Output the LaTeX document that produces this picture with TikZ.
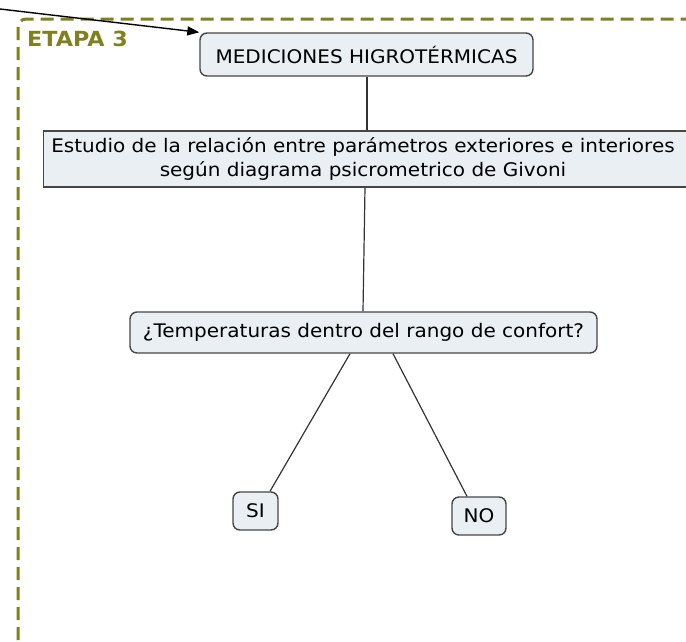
\documentclass[tikz,border=0pt]{standalone}
\usepackage{fontspec}
\setmainfont{DejaVu Sans}[FakeStretch=1.07]
\usetikzlibrary{arrows.meta}
\definecolor{olive3}{RGB}{128,128,32}
\definecolor{boxfill}{RGB}{233,239,243}
\definecolor{boxline}{RGB}{70,70,70}
\tikzset{
  rbox/.style={draw=boxline, line width=1.4pt, fill=boxfill, rounded corners=7pt, font=\fontsize{18.7}{22}\selectfont, inner sep=0pt, minimum height=#1},
  sbox/.style={draw=boxline, line width=1.2pt, fill=boxfill, inner sep=0pt},
  conn/.style={draw=black!80, line width=1.2pt},
}
\begin{document}
\begin{tikzpicture}[x=1pt,y=-1pt]
\useasboundingbox (0,0) rectangle (686,641);
\begin{scope}
\clip (0,0) rectangle (686,641);
% dashed frame
\draw[olive3, line width=3pt, dash pattern=on 13pt off 7pt, rounded corners=8pt] (18,660) -- (18,19) -- (700,19);
\node[anchor=north west, inner sep=0pt, text=olive3, font=\fontsize{20.8}{22}\selectfont\bfseries] (etapa) at (27,31) {ETAPA 3};
% boxes
\node[rbox=43pt, minimum width=333pt] (med) at (366.5,54.5) {MEDICIONES HIGROTÉRMICAS};
\node[sbox, minimum width=660pt, minimum height=56pt, anchor=west] (est) at (43,159) {};
\node[font=\fontsize{18.7}{24}\selectfont, align=center, inner sep=0pt] (esttxt) at (363,159) {Estudio de la relación entre parámetros exteriores e interiores\\según diagrama psicrometrico de Givoni};
\node[rbox=41pt, minimum width=467pt] (q) at (363.5,332.5) {¿Temperaturas dentro del rango de confort?};
\node[rbox=38pt, minimum width=45pt] (si) at (255.5,511) {SI};
\node[rbox=38pt, minimum width=54pt] (no) at (479,516) {NO};
% connectors
\coordinate (start) at (0,9);
\draw[line width=1.4pt, -{Triangle[length=12pt,width=9pt]}] (start) -- (med.north west);
\draw[conn] (med.south -| 367,0) -- (est.north -| 367,0);
\draw[conn] (est.south -| 365,0) -- (q.north -| 363,0);
\draw[conn] (q.south -| 350,0) -- (si.north -| 270,0);
\draw[conn] (q.south -| 393,0) -- (no.north -| 467,0);
\end{scope}
\end{tikzpicture}
\end{document}
